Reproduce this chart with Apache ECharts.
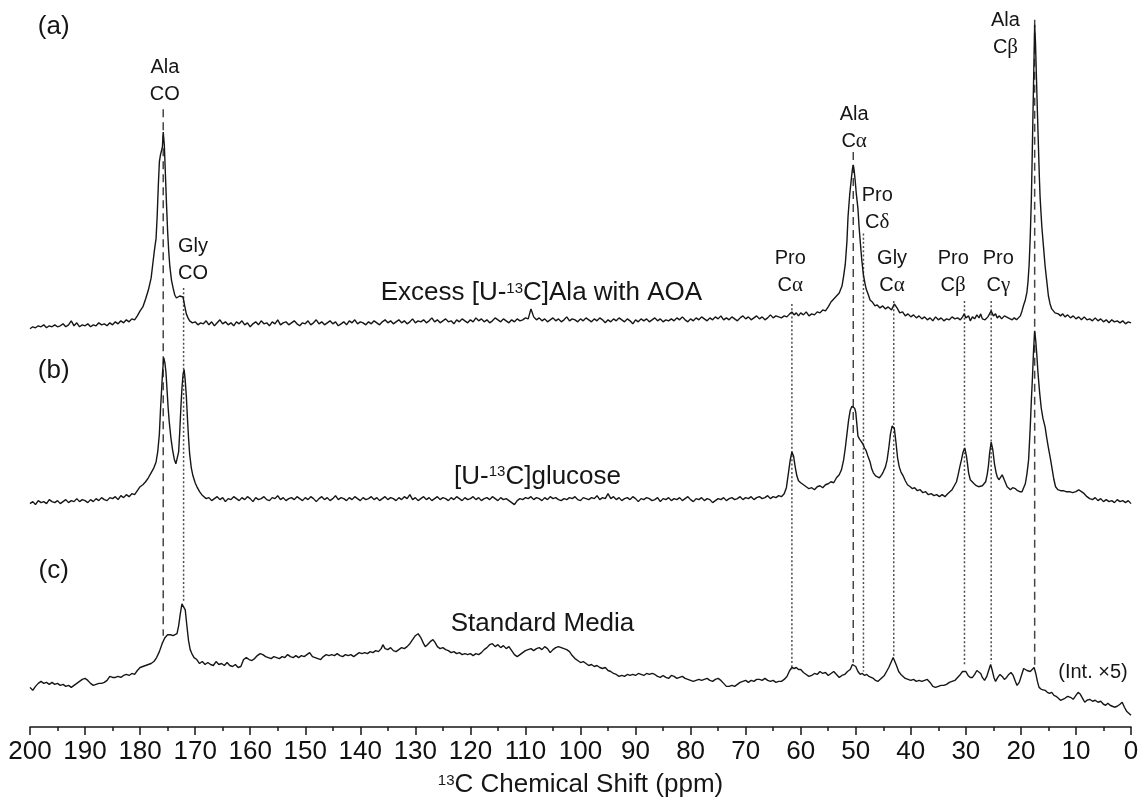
<!DOCTYPE html>
<html>
<head>
<meta charset="utf-8">
<title>13C NMR spectra</title>
<script src="https://cdn.jsdelivr.net/npm/echarts@6/dist/echarts.min.js"></script>
<style>
  html, body { margin: 0; padding: 0; background: #fff; }
  #chart { width: 1143px; height: 803px; }
</style>
</head>
<body>
<div id="chart"></div>
<script>
// spectra: intensity above each trace's own baseline
// runs = evenly sampled stretches (start ppm, step), pairs = [ppm, intensity]

// (a) Excess [U-13C]Ala with AOA
const aLeft = [-3,-1,-2,0,-1,1,-2,0,-1,1,-1,0,2,-1,1,5,0,3,-1,1,0,2,-1,1,0,3,1,2,0,3,1,4,2,5,3,6,4,7,6];
const aCO = [[180.5,10],[180,15],[179.5,19],[179,27],[178.5,36],[178,48],[177.7,62],[177.4,76],[177.1,88],[176.9,110],[176.7,140],[176.5,165],[176.3,172],[176.1,170],[175.95,180],[175.8,195],[175.6,182],[175.4,152],[175.2,122],[175,95],[174.8,75],[174.6,60],[174.3,46],[174,38],[173.7,31],[173.4,28],[173.1,27],[172.8,30],[172.5,28],[172.2,29],[171.9,20],[171.6,12],[171.3,8],[171,5],[170.5,3],[170,4],[169.5,1],[169,3]];
const aMid = [2,5,1,4,0,3,6,2,4,1, 3,0,4,2,5,1,3,-1,2,4, 1,5,2,3,0,4,2,6,1,3, 4,1,3,5,2,0,3,2,5,1,
  3,6,2,4,1,3,5,2,4,0, 2,4,1,5,3,6,2,4,3,1, 4,2,5,3,1,4,6,3,5,2, 4,6,3,5,2,4,7,3,5,4,
  6,3,5,8,4,6,3,5,7,4, 5,2,6,4,7,5,3,6,4,8, 5,7,4,6,3,5,8,6,4,7, 5,3,6,4,7,5,6,8,7,17,
  9,6,8,5,7,4,6,8,5,7, 4,6,9,5,7,6,4,7,5,8, 6,4,7,5,8,6,3,6,4,7, 5,8,6,4,7,5,2,6,4,7,
  5,7,4,6,8,5,7,4,6,5, 7,5,8,6,9,6,4,7,5,8, 6,9,7,5,8,6,9,7,10,6, 8,6,9,7,5,8,10,7,9,6,
  8,10,7,9,6,8,11,8,10,9];
const aRight = [[63.5,8],[63,10],[62.5,9],[62,12],[61.6,14],[61.2,11],[60.8,13],[60.4,10],[60,13],[59.5,11],[59,14],[58.5,10],[58,12],[57.5,11],[57,14],[56.5,13],[56,16],[55.5,15],[55,19],[54.5,24],[54,27],[53.5,30],[53,33],[52.5,40],[52.2,50],[51.9,62],[51.6,85],[51.4,110],[51.1,132],[50.8,148],[50.6,158],[50.45,162],[50.3,157],[50.1,146],[49.9,133],[49.6,118],[49.4,100],[49.2,86],[48.9,66],[48.6,51],[48.3,42],[48.1,37],[47.7,31],[47.4,26],[47,24],[46.5,20],[46.1,21],[45.6,18],[45.1,20],[44.6,17],[44.1,19],[43.5,16],[43,22],[42.5,18],[42,13],[41.5,14],[41,10],[40.5,12],[40,9],[39.5,11],[39,8],[38.5,10],[38,7],[37.5,9],[37,6],[36.5,8],[36,5],[35.5,9],[35,6],[34.5,8],[34,5],[33.5,7],[33,6],[32.5,9],[32,7],[31.5,8],[31,6],[30.6,9],[30.3,12],[30,8],[29.5,10],[29.2,5],[28.8,9],[28.4,7],[28,11],[27.6,8],[27.3,12],[27,7],[26.5,6],[26,9],[25.7,8],[25.4,15],[25,10],[24.6,12],[24.3,8],[23.9,10],[23.5,7],[23,10],[22.7,11],[22.3,8],[22,9],[21.6,6],[21.2,8],[20.8,6],[20.5,6],[20.1,10],[19.8,15],[19.5,21],[19.2,26],[18.9,34],[18.7,45],[18.5,62],[18.3,90],[18.1,128],[17.95,170],[17.8,215],[17.65,260],[17.5,303],[17.35,285],[17.2,255],[17,215],[16.8,178],[16.65,150],[16.5,128],[16.2,100],[15.9,80],[15.6,60],[15.3,45],[15,30],[14.7,22],[14.4,17],[14.1,16],[13.8,13],[13.5,14],[13.2,12],[12.8,10],[12.4,12],[12,9],[11.5,11],[11,8],[10.5,10],[10,7],[9.5,9],[9,6],[8.5,9],[8,6],[7.5,7],[7,5],[6.5,8],[6,5],[5.5,7],[5,4],[4.5,6],[4,3],[3.5,6],[3,4],[2.5,5],[2,3],[1.5,5],[1,2],[0.5,4],[0,3]];

// (b) [U-13C]glucose
const bLeft = [-4,-2,-5,-1,-3,-2,-4,0,-2,-3,-1,-4,-2,0,-3,-1,-2,1,-2,0,-1,-3,0,-2,1,-1,2,0,-1,2,1,3,0,4,2,5,3,6,5];
const bCO = [[180.5,9],[180,13],[179.5,15],[179,18],[178.5,22],[178,27],[177.5,32],[177.1,38],[176.8,48],[176.5,66],[176.3,90],[176.1,110],[175.9,130],[175.7,143],[175.5,138],[175.3,128],[175.1,110],[174.9,92],[174.7,78],[174.4,62],[174.1,50],[173.8,41],[173.5,36],[173.3,37],[173,48],[172.8,68],[172.6,92],[172.4,112],[172.2,126],[172,131],[171.8,120],[171.6,104],[171.4,82],[171.2,62],[171,46],[170.7,32],[170.4,24],[170,17],[169.6,12],[169.2,8],[168.8,5],[168.4,3],[168,1]];
const bMid = [2,-1,1,3,0,2,-2,1,0,3, 1,-1,2,0,3,1,-2,2,0,1, 3,0,-1,2,1,4,0,2,-1,1, 2,0,3,1,-1,2,0,3,1,-2,
  1,3,0,2,-1,1,4,0,2,1, -1,2,0,3,1,-1,2,0,1,3, 0,2,-1,1,3,0,2,1,-1,2, 0,3,1,5,0,2,-1,1,3,0,
  2,-1,1,3,0,2,1,-1,2,0, 3,1,-1,2,0,1,3,0,2,-1, 1,2,0,3,1,-1,2,0,1,-1, -3,-5,-1,1,0,2,1,3,0,2,
  1,-1,2,0,3,1,2,0,-1,1, 0,2,1,3,0,-1,2,1,0,2, 1,4,0,2,1,6,1,3,0,2, -1,1,2,0,3,1,-2,1,0,2,
  1,-1,0,2,-2,1,0,2,-1,1, 0,2,-1,1,3,0,-2,1,0,2, -1,1,0,-3,-1,1,0,2,-1,1, 2,0,1,3,0,2,1,3,0,2,
  3,1,2,4,1,3,2,4];
const bRight = [[63.5,3],[63,6],[62.6,12],[62.2,28],[61.9,40],[61.6,48],[61.3,44],[61,33],[60.7,24],[60.4,19],[60,17],[59.5,15],[59,13],[58.5,11],[58,12],[57.5,10],[57,13],[56.5,14],[56,12],[55.5,15],[55,16],[54.5,18],[54,17],[53.5,22],[53,25],[52.6,30],[52.2,40],[51.9,52],[51.6,66],[51.3,80],[51,90],[50.7,94],[50.45,95],[50.2,92],[50,88],[49.8,76],[49.6,64],[49.3,61],[49,60],[48.7,56],[48.4,52],[48.1,49],[47.8,44],[47.4,38],[47.1,31],[46.8,27],[46.4,24],[46.1,23],[45.7,22],[45.3,25],[45,28],[44.6,33],[44.3,40],[44,52],[43.7,66],[43.4,74],[43.2,76],[43,72],[42.7,58],[42.4,42],[42.1,33],[41.8,28],[41.4,24],[41,19],[40.6,15],[40.1,13],[39.7,11],[39.3,12],[38.8,9],[38.3,10],[37.8,7],[37.3,8],[36.8,5],[36.3,6],[35.8,4],[35.3,5],[34.8,3],[34.3,5],[33.8,3],[33.3,6],[32.9,8],[32.5,10],[32.1,14],[31.7,18],[31.4,25],[31.1,33],[30.8,40],[30.5,48],[30.2,52],[29.9,44],[29.7,36],[29.5,27],[29.2,20],[28.9,18],[28.5,16],[28.1,14],[27.7,13],[27.4,13],[27,14],[26.7,15],[26.4,18],[26.1,26],[25.9,34],[25.7,46],[25.4,58],[25.1,50],[24.8,36],[24.5,27],[24.3,23],[24,20],[23.7,22],[23.4,25],[23.1,21],[22.8,17],[22.5,13],[22.2,11],[21.9,10],[21.5,12],[21,11],[20.6,9],[20.2,8],[19.8,8],[19.5,12],[19.2,16],[18.9,26],[18.6,40],[18.3,73],[18.1,100],[17.9,123],[17.7,150],[17.5,170],[17.3,160],[17.1,145],[16.9,128],[16.6,108],[16.3,92],[16,82],[15.6,73],[15.3,62],[15,52],[14.6,40],[14.3,30],[14,20],[13.7,13],[13.3,10],[12.8,9],[12.3,9],[11.8,8],[11.2,8],[10.6,7],[10,8],[9.5,10],[9,8],[8.5,6],[8,3],[7.5,1],[7,0],[6.5,2],[6,-1],[5.5,1],[5,-2],[4.5,0],[4,-2],[3.5,-1],[3,-3],[2.5,0],[2,-2],[1.5,-1],[1,-3],[0.5,-1],[0,-4]];

// (c) Standard Media (Int. x5)
const cTrace = [[200,-2],[199.5,-5],[199,-1],[198.5,2],[198,4],[197.5,2],[197,3],[196.5,1],[196,3],[195.5,1],[195,2],[194.5,0],[194,1],[193.5,-1],[193,0],[192.5,-2],[192,0],[191.5,2],[191,4],[190.5,6],[190,7],[189.5,5],[189,2],[188.5,0],[188,1],[187.5,2],[187,2],[186.5,3],[186,5],[185.5,9],[185,8],[184.5,8],[184,9],[183.5,8],[183,10],[182.5,11],[182,10],[181.5,12],[181,11],[180.5,15],[180,18],[179.5,19],[179,20],[178.5,21],[178,22],[177.5,24],[177,28],[176.5,34],[176,42],[175.5,48],[175,51],[174.5,51],[174,50],[173.7,49],[173.3,52],[173,60],[172.7,72],[172.4,82],[172.1,84],[171.8,76],[171.5,60],[171.2,45],[170.9,36],[170.6,32],[170.2,28],[169.7,26],[169.2,22],[168.7,24],[168.2,21],[167.7,23],[167.2,21],[166.7,20],[166.2,24],[165.7,21],[165.2,22],[164.7,20],[164.2,23],[163.7,20],[163.2,19],[162.7,21],[162.2,18],[161.7,19],[161.2,26],[160.7,28],[160.2,26],[159.7,25],[159.2,27],[158.7,30],[158.2,32],[157.7,31],[157.2,29],[156.7,28],[156.2,27],[155.7,29],[155.2,28],[154.7,27],[154.2,29],[153.7,28],[153.2,31],[152.7,29],[152.2,28],[151.7,30],[151.2,28],[150.7,30],[150.2,29],[149.7,31],[149.2,33],[148.7,29],[148.2,28],[147.7,27],[147.2,26],[146.7,29],[146.2,31],[145.7,30],[145.2,31],[144.7,30],[144.2,32],[143.7,30],[143.2,29],[142.7,31],[142.2,30],[141.7,31],[141.2,29],[140.7,31],[140.2,33],[139.7,32],[139.2,33],[138.7,32],[138.2,34],[137.7,33],[137.2,35],[136.7,34],[136.2,37],[135.9,41],[135.5,37],[135,36],[134.5,38],[134,35],[133.5,34],[133,36],[132.5,38],[132,37],[131.5,39],[131,42],[130.5,46],[130,50],[129.5,52],[129,48],[128.5,42],[128.2,39],[127.8,41],[127.3,44],[126.8,46],[126.4,43],[126,39],[125.5,37],[125,38],[124.5,36],[124,35],[123.5,33],[123,34],[122.5,32],[122,33],[121.5,31],[121,32],[120.5,31],[120,32],[119.5,30],[119,32],[118.5,31],[118,33],[117.5,36],[117,38],[116.5,41],[116,42],[115.5,39],[115,41],[114.5,38],[114,40],[113.5,37],[113,39],[112.5,35],[112,31],[111.5,29],[111,31],[110.5,33],[110,35],[109.5,36],[109,37],[108.5,35],[108,37],[107.5,38],[107,36],[106.5,39],[106,37],[105.5,33],[105,36],[104.5,38],[104,39],[103.5,38],[103,37],[102.5,36],[102,34],[101.5,30],[101,27],[100.5,25],[100,23],[99.5,24],[99,22],[98.5,20],[98,21],[97.5,19],[97,20],[96.5,18],[96,17],[95.5,18],[95,15],[94.5,14],[94,12],[93.5,11],[93,9],[92.5,10],[92,9],[91.5,11],[91,10],[90.5,11],[90,10],[89.5,12],[89,11],[88.5,10],[88,12],[87.5,11],[87,12],[86.5,11],[86,9],[85.5,8],[85,10],[84.5,8],[84,7],[83.5,10],[83,9],[82.5,7],[82,8],[81.5,9],[81,7],[80.5,6],[80,5],[79.5,4],[79,5],[78.5,6],[78,5],[77.5,6],[77,7],[76.5,5],[76,4],[75.5,6],[75,7],[74.5,5],[74,2],[73.5,-1],[73,-1],[72.5,0],[72,-1],[71.5,1],[71,3],[70.5,4],[70,5],[69.5,3],[69,5],[68.5,4],[68,6],[67.5,6],[67,5],[66.5,7],[66,5],[65.5,4],[65,5],[64.5,3],[64,4],[63.5,4],[63,6],[62.5,9],[62,15],[61.6,18],[61.2,17],[60.8,18],[60.4,16],[60,16],[59.5,13],[59,11],[58.5,9],[58,10],[57.5,12],[57,11],[56.5,14],[56,12],[55.5,13],[55,10],[54.5,12],[54,14],[53.5,11],[53,8],[52.5,10],[52,11],[51.5,14],[51,16],[50.6,21],[50.3,23],[50,19],[49.6,14],[49.2,11],[48.8,12],[48.4,10],[48,11],[47.6,9],[47.2,8],[46.8,7],[46.4,5],[46,4],[45.6,6],[45.2,8],[44.8,10],[44.4,14],[44,18],[43.6,23],[43.2,28],[42.9,27],[42.6,20],[42.2,14],[41.8,11],[41.4,9],[41,7],[40.5,6],[40,5],[39.5,6],[39,4],[38.5,5],[38,4],[37.5,5],[37,6],[36.5,3],[36,-1],[35.5,-2],[35,-1],[34.5,0],[34,0],[33.5,1],[33,3],[32.5,4],[32,5],[31.5,8],[31,11],[30.6,14],[30.3,16],[30,14],[29.6,10],[29.2,8],[28.8,8],[28.4,11],[28,15],[27.7,16],[27.3,12],[27,8],[26.6,5],[26.2,9],[25.8,16],[25.5,21],[25.2,15],[24.9,8],[24.6,4],[24.2,8],[23.8,11],[23.4,9],[23,6],[22.6,8],[22.2,11],[21.8,13],[21.4,10],[21,4],[20.7,0],[20.3,3],[19.9,10],[19.5,17],[19.2,18],[18.9,15],[18.6,16],[18.3,14],[18,16],[17.6,18],[17.3,12],[17,4],[16.7,-2],[16.3,-4],[16,-5],[15.6,-5],[15.2,-7],[14.8,-8],[14.4,-7],[14,-10],[13.6,-11],[13.2,-13],[12.8,-15],[12.4,-14],[12,-13],[11.5,-11],[11,-12],[10.5,-14],[10,-10],[9.6,-7],[9.2,-9],[8.8,-13],[8.4,-17],[8,-15],[7.5,-14],[7,-16],[6.5,-15],[6,-17],[5.5,-16],[5,-19],[4.6,-20],[4.2,-18],[3.8,-20],[3.4,-21],[3,-22],[2.5,-21],[2,-19],[1.6,-17],[1.2,-22],[0.8,-26],[0.4,-28],[0,-30]];

// vertical offsets of the stacked traces
const offsetA = 404, offsetB = 229, offsetC = 42;

// assignment guide lines
const refShift  = [175.8, 172.1, 61.6, 50.45, 48.6, 43.1, 30.25, 25.4, 17.5];
const refDashed = [true, false, false, true, false, false, false, false, true];
const refTop    = [622, 442, 426, 579, 497, 429, 429, 429, 712];
const refBottom = [92, 126, 58, 65, 56, 70, 63, 65, 61];

// peak labels
const peakNames = ['Ala\nCO', 'Gly\nCO', 'Pro\nCα', 'Ala\nCα', 'Pro\nCδ', 'Gly\nCα', 'Pro\nCβ', 'Pro\nCγ', 'Ala\nCβ'];
const peakLabelX = [175.5, 170.4, 61.9, 50.3, 46.1, 43.4, 32.3, 24.1, 22.8];
const peakLabelY = [650, 470, 458, 603, 522, 458, 458, 458, 698];

const sampleNames = ['Excess [U-13C]Ala with AOA', '[U-13C]glucose', 'Standard Media'];
const sampleX = [107.1, 107.8, 106.9];
const sampleY = [437, 252, 104];

const panelTags = ['(a)', '(b)', '(c)'];
const panelY = [705, 359, 157];

const FONT = '"Liberation Sans", Arial, sans-serif';
const INK = '#161616';

const run = (start, step, vals) => vals.map((v, i) => [+(start - i * step).toFixed(2), v]);
const shift = (pts, off) => pts.map(p => [p[0], p[1] + off]);

const traceA = [].concat(run(200, 0.5, aLeft), aCO, run(168.5, 0.5, aMid), aRight);
const traceB = [].concat(run(200, 0.5, bLeft), bCO, run(167.5, 0.5, bMid), bRight);

const greek = /[αβγδ]/;
const fmtPeak = (name) => name.split('\n').map(line =>
  line.split('').map(ch => greek.test(ch) ? `{g|${ch}}` : `{t|${ch}}`).join('')
).join('\n');
const fmtSample = (name) => {
  const i = name.indexOf('13C');
  if (i < 0) return `{m|${name}}`;
  return `{m|${name.slice(0, i)}}{s|13}{m|${name.slice(i + 2)}}`;
};

const richStyles = {
  t: { fontSize: 20, lineHeight: 27, fontFamily: FONT, color: INK },
  g: { fontSize: 21, lineHeight: 27, fontFamily: '"Liberation Serif", "DejaVu Serif", serif', color: INK },
  m: { fontSize: 26, lineHeight: 30, fontFamily: FONT, color: INK },
  s: { fontSize: 15, lineHeight: 30, verticalAlign: 'top', fontFamily: FONT, color: INK, padding: [3, 0, 0, 0] },
  k: { fontSize: 20, lineHeight: 24, fontFamily: FONT, color: INK }
};

const chart = echarts.init(document.getElementById('chart'));

const series = [];
[[traceA, offsetA], [traceB, offsetB], [cTrace, offsetC]].forEach(([t, off]) => {
  series.push({
    type: 'line',
    data: shift(t, off),
    showSymbol: false,
    silent: true,
    lineStyle: { color: INK, width: 1.4 },
    z: 3
  });
});

refShift.forEach((s, i) => {
  series.push({
    type: 'line',
    data: [[s, refTop[i]], [s, refBottom[i]]],
    showSymbol: false,
    silent: true,
    lineStyle: {
      color: refDashed[i] ? '#444' : '#4d4d4d',
      width: 1.5,
      type: refDashed[i] ? [8, 5] : [2, 2.2]
    },
    z: 2
  });
});

const labelItems = [];
peakNames.forEach((n, i) => labelItems.push({ value: [peakLabelX[i], peakLabelY[i]], label: { formatter: fmtPeak(n) } }));
sampleNames.forEach((n, i) => labelItems.push({ value: [sampleX[i], sampleY[i]], label: { formatter: fmtSample(n) } }));
panelTags.forEach((n, i) => labelItems.push({ value: [195.7, panelY[i]], label: { formatter: `{m|${n}}` } }));
labelItems.push({ value: [6.9, 55], label: { formatter: '{k|(Int. ×5)}' } });

series.push({
  type: 'scatter',
  data: labelItems,
  symbolSize: 0,
  silent: true,
  itemStyle: { opacity: 1, color: 'transparent' },
  label: { show: true, position: 'inside', opacity: 1, color: INK, textBorderWidth: 0, rich: richStyles },
  z: 5
});

const option = {
  backgroundColor: '#fff',
  animation: false,
  grid: { left: 30, right: 12, top: 0, bottom: 71 },
  xAxis: {
    type: 'value',
    min: 0,
    max: 200,
    interval: 10,
    inverse: true,
    axisLine: { lineStyle: { color: INK, width: 1.5 } },
    axisTick: { length: 8, lineStyle: { color: INK, width: 1.5 } },
    minorTick: { show: true, splitNumber: 2, length: 4, lineStyle: { color: INK, width: 1.5 } },
    splitLine: { show: false },
    axisLabel: { fontSize: 26, color: '#111', margin: 12, fontFamily: FONT },
    name: '{s|13}{m|C Chemical Shift (ppm)}',
    nameLocation: 'middle',
    nameGap: 40,
    nameTextStyle: { rich: richStyles }
  },
  yAxis: { type: 'value', min: 0, max: 732, show: false },
  series: series
};

chart.setOption(option);
</script>
</body>
</html>
